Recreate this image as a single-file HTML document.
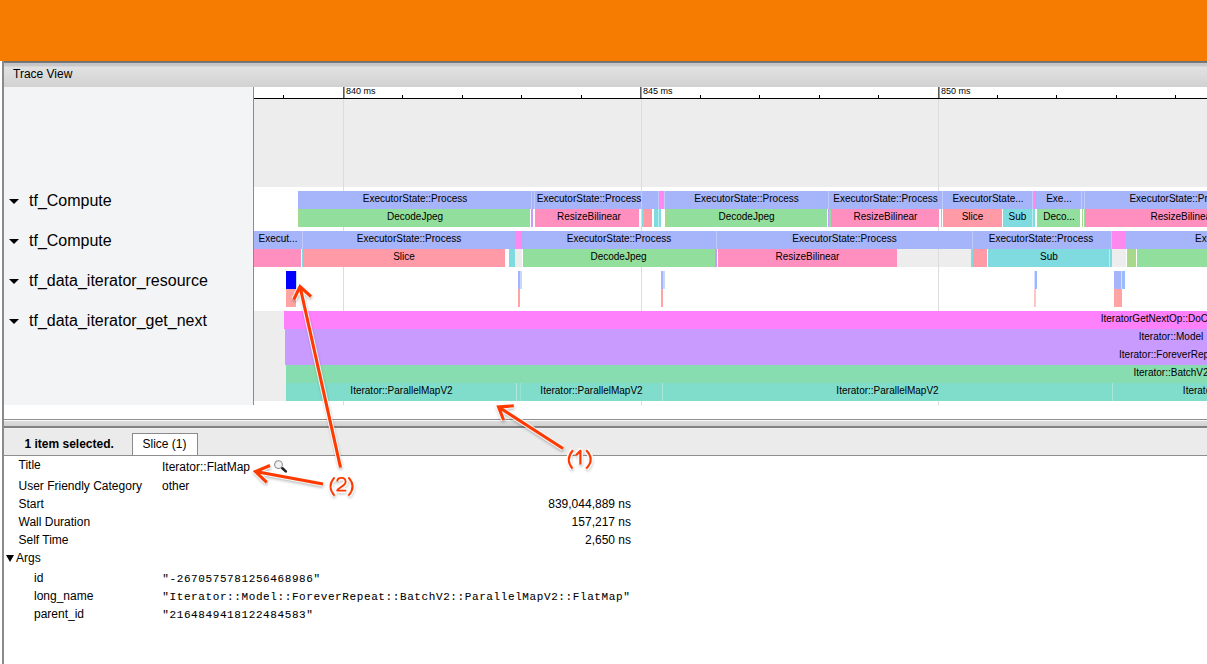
<!DOCTYPE html>
<html><head><meta charset="utf-8"><style>
html,body{margin:0;padding:0;}
body{width:1207px;height:664px;overflow:hidden;position:relative;background:#fff;font-family:"Liberation Sans", sans-serif;}
body>div{position:absolute;}
.t{white-space:nowrap;}
</style></head><body>
<div style="left:0px;top:0px;width:1207px;height:61px;background:#f57c00;"></div>
<div style="left:2px;top:61px;width:1205px;height:1px;background:#6c7075;"></div>
<div style="left:4px;top:62px;width:1203px;height:1px;background:#787c81;"></div>
<div style="left:2px;top:61px;width:2px;height:603px;background:#8a8a8a;"></div>
<div style="left:4px;top:63px;width:1203px;height:24px;background:linear-gradient(#c4c4c4 0px,#cacaca 3px,#e1e1e1 4px,#dddddd 10px,#d2d2d2 23px);"></div>
<div class="t" style="left:13px;top:67.84px;font-size:12px;line-height:12px;color:#000;font-weight:normal;font-family:'Liberation Sans', sans-serif;">Trace View</div>
<div style="left:4px;top:87px;width:249px;height:318px;background:#f3f4f6;"></div>
<div style="left:253px;top:87px;width:1px;height:318px;background:#8c8c8c;"></div>
<div style="left:254px;top:87px;width:953px;height:11px;background:#ffffff;"></div>
<div style="left:254px;top:98px;width:953px;height:1px;background:#000000;"></div>
<div style="left:254px;top:99px;width:953px;height:88px;background:#ededed;"></div>
<div style="left:254px;top:187px;width:953px;height:218px;background:#ffffff;"></div>
<div style="left:4px;top:405px;width:1203px;height:14px;background:#ffffff;"></div>
<div style="left:343px;top:99px;width:1px;height:306px;background:#dcdcdc;"></div>
<div style="left:641px;top:99px;width:1px;height:306px;background:#dcdcdc;"></div>
<div style="left:938px;top:99px;width:1px;height:306px;background:#dcdcdc;"></div>
<div style="left:283px;top:95px;width:1px;height:3px;background:#000;"></div>
<div style="left:343px;top:87px;width:1px;height:11px;background:#5a5a5a;"></div>
<div style="left:344px;top:87px;width:1px;height:11px;background:#9a9a9a;"></div>
<div style="left:402px;top:95px;width:1px;height:3px;background:#000;"></div>
<div style="left:462px;top:95px;width:1px;height:3px;background:#000;"></div>
<div style="left:521px;top:95px;width:1px;height:3px;background:#000;"></div>
<div style="left:581px;top:95px;width:1px;height:3px;background:#000;"></div>
<div style="left:640px;top:87px;width:1px;height:11px;background:#5a5a5a;"></div>
<div style="left:641px;top:87px;width:1px;height:11px;background:#9a9a9a;"></div>
<div style="left:700px;top:95px;width:1px;height:3px;background:#000;"></div>
<div style="left:759px;top:95px;width:1px;height:3px;background:#000;"></div>
<div style="left:819px;top:95px;width:1px;height:3px;background:#000;"></div>
<div style="left:878px;top:95px;width:1px;height:3px;background:#000;"></div>
<div style="left:938px;top:87px;width:1px;height:11px;background:#5a5a5a;"></div>
<div style="left:939px;top:87px;width:1px;height:11px;background:#9a9a9a;"></div>
<div style="left:997px;top:95px;width:1px;height:3px;background:#000;"></div>
<div style="left:1056px;top:95px;width:1px;height:3px;background:#000;"></div>
<div style="left:1116px;top:95px;width:1px;height:3px;background:#000;"></div>
<div style="left:1175px;top:95px;width:1px;height:3px;background:#000;"></div>
<div class="t" style="left:346px;top:87.38px;font-size:9px;line-height:9px;color:#000;font-weight:normal;font-family:'Liberation Sans', sans-serif;">840 ms</div>
<div class="t" style="left:643px;top:87.38px;font-size:9px;line-height:9px;color:#000;font-weight:normal;font-family:'Liberation Sans', sans-serif;">845 ms</div>
<div class="t" style="left:941px;top:87.38px;font-size:9px;line-height:9px;color:#000;font-weight:normal;font-family:'Liberation Sans', sans-serif;">850 ms</div>
<div style="left:9px;top:199px;width:0;height:0;border-left:5px solid transparent;border-right:5px solid transparent;border-top:5.5px solid #000;background:none"></div>
<div class="t" style="left:29px;top:193.46px;font-size:16px;line-height:16px;color:#000;font-weight:normal;font-family:'Liberation Sans', sans-serif;">tf_Compute</div>
<div style="left:9px;top:239px;width:0;height:0;border-left:5px solid transparent;border-right:5px solid transparent;border-top:5.5px solid #000;background:none"></div>
<div class="t" style="left:29px;top:233.46px;font-size:16px;line-height:16px;color:#000;font-weight:normal;font-family:'Liberation Sans', sans-serif;">tf_Compute</div>
<div style="left:9px;top:279px;width:0;height:0;border-left:5px solid transparent;border-right:5px solid transparent;border-top:5.5px solid #000;background:none"></div>
<div class="t" style="left:29px;top:273.46px;font-size:16px;line-height:16px;color:#000;font-weight:normal;font-family:'Liberation Sans', sans-serif;">tf_data_iterator_resource</div>
<div style="left:9px;top:319px;width:0;height:0;border-left:5px solid transparent;border-right:5px solid transparent;border-top:5.5px solid #000;background:none"></div>
<div class="t" style="left:29px;top:313.46px;font-size:16px;line-height:16px;color:#000;font-weight:normal;font-family:'Liberation Sans', sans-serif;">tf_data_iterator_get_next</div>
<div style="left:298px;top:191px;width:983px;height:18px;background:#a6b4fa;"></div>
<div style="left:531px;top:191px;width:1px;height:18px;background:#c3cbfc;"></div>
<div style="left:534px;top:191px;width:1px;height:18px;background:#c3cbfc;"></div>
<div style="left:641px;top:191px;width:1px;height:18px;background:#c3cbfc;"></div>
<div style="left:658px;top:191px;width:1px;height:18px;background:#c3cbfc;"></div>
<div style="left:664px;top:191px;width:1px;height:18px;background:#c3cbfc;"></div>
<div style="left:828px;top:191px;width:1px;height:18px;background:#c3cbfc;"></div>
<div style="left:942px;top:191px;width:1px;height:18px;background:#c3cbfc;"></div>
<div style="left:1032px;top:191px;width:1px;height:18px;background:#c3cbfc;"></div>
<div style="left:1081px;top:191px;width:1px;height:18px;background:#c3cbfc;"></div>
<div style="left:1084px;top:191px;width:1px;height:18px;background:#c3cbfc;"></div>
<div style="left:660px;top:191px;width:4px;height:18px;background:#ff88ee;"></div>
<div style="left:1033.8px;top:191px;width:2.0px;height:18px;background:#ff88ee;"></div>
<div class="t" style="left:-185px;width:1200px;text-align:center;top:193.53px;font-size:10px;line-height:10px;color:#000;">ExecutorState::Process</div>
<div class="t" style="left:-11px;width:1200px;text-align:center;top:193.53px;font-size:10px;line-height:10px;color:#000;">ExecutorState::Process</div>
<div class="t" style="left:146.5px;width:1200px;text-align:center;top:193.53px;font-size:10px;line-height:10px;color:#000;">ExecutorState::Process</div>
<div class="t" style="left:285.5px;width:1200px;text-align:center;top:193.53px;font-size:10px;line-height:10px;color:#000;">ExecutorState::Process</div>
<div class="t" style="left:388px;width:1200px;text-align:center;top:193.53px;font-size:10px;line-height:10px;color:#000;">ExecutorState...</div>
<div class="t" style="left:459px;width:1200px;text-align:center;top:193.53px;font-size:10px;line-height:10px;color:#000;">Exe...</div>
<div class="t" style="left:581.7px;width:1200px;text-align:center;top:193.53px;font-size:10px;line-height:10px;color:#000;">ExecutorState::Process</div>
<div style="left:298px;top:209px;width:2px;height:18px;background:#a8d88c;"></div>
<div style="left:300px;top:209px;width:230px;height:18px;background:#92de9c;"></div>
<div class="t" style="left:-185px;width:1200px;text-align:center;top:211.53px;font-size:10px;line-height:10px;color:#000;">DecodeJpeg</div>
<div style="left:531px;top:209px;width:2px;height:18px;background:#c99bff;"></div>
<div style="left:535px;top:209px;width:104px;height:18px;background:#ff8fbe;"></div>
<div class="t" style="left:-11px;width:1200px;text-align:center;top:211.53px;font-size:10px;line-height:10px;color:#000;">ResizeBilinear</div>
<div style="left:642px;top:209px;width:1.5px;height:18px;background:#80dbe0;"></div>
<div style="left:643.5px;top:209px;width:8.5px;height:18px;background:#ff9aa6;"></div>
<div style="left:654px;top:209px;width:4px;height:18px;background:#80dbe0;"></div>
<div style="left:658px;top:209px;width:1px;height:18px;background:#b8ecee;"></div>
<div style="left:659px;top:209px;width:1.5px;height:18px;background:#80dbe0;"></div>
<div style="left:665px;top:209px;width:2px;height:18px;background:#a8d88c;"></div>
<div style="left:667px;top:209px;width:160px;height:18px;background:#92de9c;"></div>
<div class="t" style="left:146.5px;width:1200px;text-align:center;top:211.53px;font-size:10px;line-height:10px;color:#000;">DecodeJpeg</div>
<div style="left:828px;top:209px;width:1px;height:18px;background:#c99bff;"></div>
<div style="left:829px;top:209px;width:1.5px;height:18px;background:#92de9c;"></div>
<div style="left:831px;top:209px;width:108px;height:18px;background:#ff8fbe;"></div>
<div class="t" style="left:285.5px;width:1200px;text-align:center;top:211.53px;font-size:10px;line-height:10px;color:#000;">ResizeBilinear</div>
<div style="left:941px;top:209px;width:1px;height:18px;background:#80dbe0;"></div>
<div style="left:943px;top:209px;width:59px;height:18px;background:#ff9aa6;"></div>
<div class="t" style="left:372.5px;width:1200px;text-align:center;top:211.53px;font-size:10px;line-height:10px;color:#000;">Slice</div>
<div style="left:1003px;top:209px;width:29px;height:18px;background:#80dbe0;"></div>
<div class="t" style="left:417.5px;width:1200px;text-align:center;top:211.53px;font-size:10px;line-height:10px;color:#000;">Sub</div>
<div style="left:1032px;top:209px;width:1px;height:18px;background:#b8ecee;"></div>
<div style="left:1033px;top:209px;width:1.5px;height:18px;background:#80dbe0;"></div>
<div style="left:1037px;top:209px;width:43px;height:18px;background:#92de9c;"></div>
<div class="t" style="left:459px;width:1200px;text-align:center;top:211.53px;font-size:10px;line-height:10px;color:#000;">Deco...</div>
<div style="left:1081.5px;top:209px;width:1.5px;height:18px;background:#a8d88c;"></div>
<div style="left:1083.5px;top:209px;width:1.0px;height:18px;background:#92de9c;"></div>
<div style="left:1085px;top:209px;width:195px;height:18px;background:#ff8fbe;"></div>
<div class="t" style="left:582.5px;width:1200px;text-align:center;top:211.53px;font-size:10px;line-height:10px;color:#000;">ResizeBilinear</div>
<div style="left:254px;top:231px;width:1146px;height:18px;background:#a6b4fa;"></div>
<div style="left:302px;top:231px;width:1px;height:18px;background:#c3cbfc;"></div>
<div style="left:716px;top:231px;width:1px;height:18px;background:#c3cbfc;"></div>
<div style="left:972px;top:231px;width:1px;height:18px;background:#c3cbfc;"></div>
<div style="left:1111px;top:231px;width:1px;height:18px;background:#c3cbfc;"></div>
<div style="left:515.5px;top:231px;width:6.0px;height:18px;background:#ff88ee;"></div>
<div style="left:1111.8px;top:231px;width:13.5px;height:18px;background:#ff88ee;"></div>
<div class="t" style="left:-322px;width:1200px;text-align:center;top:233.53px;font-size:10px;line-height:10px;color:#000;">Execut...</div>
<div class="t" style="left:-191px;width:1200px;text-align:center;top:233.53px;font-size:10px;line-height:10px;color:#000;">ExecutorState::Process</div>
<div class="t" style="left:19px;width:1200px;text-align:center;top:233.53px;font-size:10px;line-height:10px;color:#000;">ExecutorState::Process</div>
<div class="t" style="left:244.5px;width:1200px;text-align:center;top:233.53px;font-size:10px;line-height:10px;color:#000;">ExecutorState::Process</div>
<div class="t" style="left:441px;width:1200px;text-align:center;top:233.53px;font-size:10px;line-height:10px;color:#000;">ExecutorState::Process</div>
<div class="t" style="left:647.3px;width:1200px;text-align:center;top:233.53px;font-size:10px;line-height:10px;color:#000;">ExecutorState::Process</div>
<div style="left:254px;top:249px;width:47px;height:18px;background:#ff8fbe;"></div>
<div style="left:301.5px;top:249px;width:1.5px;height:18px;background:#80dbe0;"></div>
<div style="left:303px;top:249px;width:202px;height:18px;background:#ff9aa6;"></div>
<div class="t" style="left:-196px;width:1200px;text-align:center;top:251.53px;font-size:10px;line-height:10px;color:#000;">Slice</div>
<div style="left:509px;top:249px;width:6px;height:18px;background:#80dbe0;"></div>
<div style="left:515px;top:249px;width:7px;height:18px;background:#ededed;"></div>
<div style="left:522.5px;top:249px;width:192.0px;height:18px;background:#92de9c;"></div>
<div class="t" style="left:18.5px;width:1200px;text-align:center;top:251.53px;font-size:10px;line-height:10px;color:#000;">DecodeJpeg</div>
<div style="left:715px;top:249px;width:2px;height:18px;background:#c99bff;"></div>
<div style="left:718px;top:249px;width:179px;height:18px;background:#ff8fbe;"></div>
<div class="t" style="left:207.5px;width:1200px;text-align:center;top:251.53px;font-size:10px;line-height:10px;color:#000;">ResizeBilinear</div>
<div style="left:897px;top:249px;width:74px;height:18px;background:#ededed;"></div>
<div style="left:971px;top:249px;width:1.5px;height:18px;background:#80dbe0;"></div>
<div style="left:972.5px;top:249px;width:14.0px;height:18px;background:#ff9aa6;"></div>
<div style="left:988px;top:249px;width:121px;height:18px;background:#80dbe0;"></div>
<div class="t" style="left:449px;width:1200px;text-align:center;top:251.53px;font-size:10px;line-height:10px;color:#000;">Sub</div>
<div style="left:1109px;top:249px;width:1px;height:18px;background:#b8ecee;"></div>
<div style="left:1110px;top:249px;width:2px;height:18px;background:#80dbe0;"></div>
<div style="left:1112px;top:249px;width:14px;height:18px;background:#ededed;"></div>
<div style="left:1126.5px;top:249px;width:9.5px;height:18px;background:#a8d88c;"></div>
<div style="left:1137px;top:249px;width:263px;height:18px;background:#92de9c;"></div>
<div style="left:938px;top:249px;width:1px;height:18px;background:#dcdcdc;"></div>
<div style="left:286px;top:271px;width:10px;height:18px;background:#0000ff;"></div>
<div style="left:296px;top:271px;width:1px;height:18px;background:#c8d8ff;"></div>
<div style="left:286px;top:289px;width:10px;height:18px;background:#ffa3a3;"></div>
<div style="left:518px;top:271px;width:2px;height:18px;background:#a6b4fa;"></div>
<div style="left:520px;top:271px;width:2px;height:18px;background:#c8d8ff;"></div>
<div style="left:518px;top:289px;width:2px;height:18px;background:#ffa3a3;"></div>
<div style="left:661px;top:271px;width:2px;height:18px;background:#a6b4fa;"></div>
<div style="left:663px;top:271px;width:2px;height:18px;background:#c8d8ff;"></div>
<div style="left:661px;top:289px;width:2px;height:18px;background:#ffa3a3;"></div>
<div style="left:1034px;top:271px;width:1px;height:18px;background:#d8e0ff;"></div>
<div style="left:1035px;top:271px;width:2px;height:18px;background:#99b8ff;"></div>
<div style="left:1034px;top:289px;width:2px;height:18px;background:#ffc4c4;"></div>
<div style="left:1114px;top:271px;width:7px;height:18px;background:#a6b4fa;"></div>
<div style="left:1121px;top:271px;width:1px;height:18px;background:#d4dcfd;"></div>
<div style="left:1122px;top:271px;width:3px;height:18px;background:#99bbff;"></div>
<div style="left:1114px;top:289px;width:7.5px;height:18px;background:#ffa3a3;"></div>
<div style="left:254px;top:311px;width:32px;height:90px;background:#ededed;"></div>
<div style="left:284px;top:311px;width:1774px;height:18px;background:#ff80fb;"></div>
<div class="t" style="left:571px;width:1200px;text-align:center;top:313.53px;font-size:10px;line-height:10px;color:#000;">IteratorGetNextOp::DoCompute</div>
<div style="left:285px;top:329px;width:1772px;height:18px;background:#c99bff;"></div>
<div class="t" style="left:571px;width:1200px;text-align:center;top:331.53px;font-size:10px;line-height:10px;color:#000;">Iterator::Model</div>
<div style="left:285px;top:347px;width:1772px;height:18px;background:#c99bff;"></div>
<div class="t" style="left:571px;width:1200px;text-align:center;top:349.53px;font-size:10px;line-height:10px;color:#000;">Iterator::ForeverRepeat</div>
<div style="left:285.5px;top:365px;width:1770.5px;height:18px;background:#88ddb0;"></div>
<div class="t" style="left:571px;width:1200px;text-align:center;top:367.53px;font-size:10px;line-height:10px;color:#000;">Iterator::BatchV2</div>
<div style="left:286px;top:383px;width:1114px;height:18px;background:#80dccb;"></div>
<div style="left:516px;top:383px;width:1px;height:18px;background:#b2e8dc;"></div>
<div style="left:520px;top:383px;width:1px;height:18px;background:#98e2d2;"></div>
<div style="left:662px;top:383px;width:1px;height:18px;background:#a8e6d8;"></div>
<div style="left:1112px;top:383px;width:1px;height:18px;background:#a8e6d8;"></div>
<div class="t" style="left:-198.5px;width:1200px;text-align:center;top:385.53px;font-size:10px;line-height:10px;color:#000;">Iterator::ParallelMapV2</div>
<div class="t" style="left:-8.5px;width:1200px;text-align:center;top:385.53px;font-size:10px;line-height:10px;color:#000;">Iterator::ParallelMapV2</div>
<div class="t" style="left:287.5px;width:1200px;text-align:center;top:385.53px;font-size:10px;line-height:10px;color:#000;">Iterator::ParallelMapV2</div>
<div class="t" style="left:634px;width:1200px;text-align:center;top:385.53px;font-size:10px;line-height:10px;color:#000;">Iterator::ParallelMapV2</div>
<div style="left:4px;top:419px;width:1203px;height:1px;background:#8e8e8e;"></div>
<div style="left:4px;top:420px;width:1203px;height:1px;background:#fafafa;"></div>
<div style="left:4px;top:421px;width:1203px;height:5px;background:linear-gradient(#dcdcdc,#d2d2d2);"></div>
<div style="left:4px;top:426px;width:1203px;height:2px;background:#828282;"></div>
<div style="left:4px;top:428px;width:1203px;height:27px;background:#ebebeb;"></div>
<div style="left:4px;top:428px;width:1203px;height:1px;background:#f0f0f0;"></div>
<div style="left:4px;top:456px;width:1203px;height:208px;background:#ffffff;"></div>
<div class="t" style="left:24.5px;top:437.84px;font-size:12px;line-height:12px;color:#000;font-weight:bold;font-family:'Liberation Sans', sans-serif;">1 item selected.</div>
<div style="left:132px;top:433px;width:66px;height:22px;background:#ffffff;box-sizing:border-box;border:1px solid #8a8a8a;border-bottom:none"></div>
<div style="left:4px;top:455px;width:1203px;height:1px;background:#8e8e8e;"></div>
<div class="t" style="left:142.5px;top:437.84px;font-size:12px;line-height:12px;color:#000;font-weight:normal;font-family:'Liberation Sans', sans-serif;">Slice (1)</div>
<div class="t" style="left:18.5px;top:458.84px;font-size:12px;line-height:12px;color:#000;font-weight:normal;font-family:'Liberation Sans', sans-serif;">Title</div>
<div class="t" style="left:18.5px;top:479.84px;font-size:12px;line-height:12px;color:#000;font-weight:normal;font-family:'Liberation Sans', sans-serif;">User Friendly Category</div>
<div class="t" style="left:18.5px;top:497.84px;font-size:12px;line-height:12px;color:#000;font-weight:normal;font-family:'Liberation Sans', sans-serif;">Start</div>
<div class="t" style="left:18.5px;top:515.84px;font-size:12px;line-height:12px;color:#000;font-weight:normal;font-family:'Liberation Sans', sans-serif;">Wall Duration</div>
<div class="t" style="left:18.5px;top:533.84px;font-size:12px;line-height:12px;color:#000;font-weight:normal;font-family:'Liberation Sans', sans-serif;">Self Time</div>
<div class="t" style="left:162px;top:460.84px;font-size:12px;line-height:12px;color:#000;font-weight:normal;font-family:'Liberation Sans', sans-serif;">Iterator::FlatMap</div>
<div class="t" style="left:162px;top:479.84px;font-size:12px;line-height:12px;color:#000;font-weight:normal;font-family:'Liberation Sans', sans-serif;">other</div>
<div class="t" style="left:31px;width:600px;text-align:right;top:497.84px;font-size:12px;line-height:12px;color:#000;">839,044,889 ns</div>
<div class="t" style="left:31px;width:600px;text-align:right;top:515.84px;font-size:12px;line-height:12px;color:#000;">157,217 ns</div>
<div class="t" style="left:31px;width:600px;text-align:right;top:533.84px;font-size:12px;line-height:12px;color:#000;">2,650 ns</div>
<div style="left:6px;top:555px;width:0;height:0;border-left:4px solid transparent;border-right:4px solid transparent;border-top:7px solid #000;background:none"></div>
<div class="t" style="left:16px;top:551.84px;font-size:12px;line-height:12px;color:#000;font-weight:normal;font-family:'Liberation Sans', sans-serif;">Args</div>
<div class="t" style="left:34px;top:571.84px;font-size:12px;line-height:12px;color:#000;font-weight:normal;font-family:'Liberation Sans', sans-serif;">id</div>
<div class="t" style="left:162.3px;top:574.19px;font-size:11px;line-height:11px;color:#000;font-weight:normal;font-family:'Liberation Mono', monospace;letter-spacing:0.6px;-webkit-text-stroke:0.08px #000">"-2670575781256468986"</div>
<div class="t" style="left:34px;top:589.84px;font-size:12px;line-height:12px;color:#000;font-weight:normal;font-family:'Liberation Sans', sans-serif;">long_name</div>
<div class="t" style="left:162.3px;top:592.19px;font-size:11px;line-height:11px;color:#000;font-weight:normal;font-family:'Liberation Mono', monospace;letter-spacing:0.6px;-webkit-text-stroke:0.08px #000">"Iterator::Model::ForeverRepeat::BatchV2::ParallelMapV2::FlatMap"</div>
<div class="t" style="left:34px;top:607.84px;font-size:12px;line-height:12px;color:#000;font-weight:normal;font-family:'Liberation Sans', sans-serif;">parent_id</div>
<div class="t" style="left:162.3px;top:610.19px;font-size:11px;line-height:11px;color:#000;font-weight:normal;font-family:'Liberation Mono', monospace;letter-spacing:0.6px;-webkit-text-stroke:0.08px #000">"2164849418122484583"</div>
<svg style="position:absolute;left:270px;top:456px" width="20" height="20" viewBox="0 0 20 20"><circle cx="8.5" cy="8.6" r="3.9" fill="#f2f2f2" stroke="#8a8e94" stroke-width="1.1"/><line x1="12.4" y1="12.3" x2="15.8" y2="15.4" stroke="#222" stroke-width="2.6" stroke-linecap="round"/></svg>
<svg style="position:absolute;left:0;top:0" width="1207" height="664" viewBox="0 0 1207 664">
<defs><filter id="sh" x="-10%" y="-10%" width="120%" height="120%"><feGaussianBlur stdDeviation="1.6"/></filter></defs>
<g fill="none" stroke-linejoin="miter" stroke-linecap="butt">
<g transform="translate(0.5,2)" filter="url(#sh)" opacity="0.28"><path d="M340.5 467.5 L300 286.5 M293.8 299.5 L300 286.5 L311 296.5" stroke="#000" stroke-width="4.1" stroke-linejoin="miter"/><path d="M323 484 L255.5 471.5 M270 465.5 L255.5 471.5 L266.7 482.3" stroke="#000" stroke-width="4.1" stroke-linejoin="miter"/><path d="M563 448.5 L498.5 407 M513.8 405.8 L498.5 407 L503.6 420" stroke="#000" stroke-width="4.1" stroke-linejoin="miter"/><path d="M334.5 477.3 Q326.5 486.4 334.5 495.6" stroke="#000" stroke-width="2.9" stroke-linejoin="round"/><path d="M337.2 481.4 C337.2 479.3 338.9 477.9 341.4 477.9 C344 477.9 345.6 479.6 345.6 481.7 C345.6 484.2 343.4 485.5 341 487.1 C338.6 488.7 337.2 489.6 337.2 490.6 L346.2 490.6" stroke="#000" stroke-width="2.9" stroke-linejoin="round"/><path d="M348.4 477.3 Q356.8 486.4 348.4 495.6" stroke="#000" stroke-width="2.9" stroke-linejoin="round"/><path d="M572.9 450.2 Q565 459.4 572.4 468.5" stroke="#000" stroke-width="3.1" stroke-linejoin="round"/><path d="M576 455.3 L580.4 450.7 L580.4 464.6" stroke="#000" stroke-width="3.2" stroke-linejoin="round"/><path d="M586.2 450.2 Q595.2 459.4 586.2 468.5" stroke="#000" stroke-width="3.1" stroke-linejoin="round"/></g>
<g opacity="0.85"><path d="M340.5 467.5 L300 286.5 M293.8 299.5 L300 286.5 L311 296.5" stroke="#fff" stroke-width="5.300000000000001" stroke-linejoin="miter"/><path d="M323 484 L255.5 471.5 M270 465.5 L255.5 471.5 L266.7 482.3" stroke="#fff" stroke-width="5.300000000000001" stroke-linejoin="miter"/><path d="M563 448.5 L498.5 407 M513.8 405.8 L498.5 407 L503.6 420" stroke="#fff" stroke-width="5.300000000000001" stroke-linejoin="miter"/><path d="M334.5 477.3 Q326.5 486.4 334.5 495.6" stroke="#fff" stroke-width="5.1" stroke-linejoin="round"/><path d="M337.2 481.4 C337.2 479.3 338.9 477.9 341.4 477.9 C344 477.9 345.6 479.6 345.6 481.7 C345.6 484.2 343.4 485.5 341 487.1 C338.6 488.7 337.2 489.6 337.2 490.6 L346.2 490.6" stroke="#fff" stroke-width="5.1" stroke-linejoin="round"/><path d="M348.4 477.3 Q356.8 486.4 348.4 495.6" stroke="#fff" stroke-width="5.1" stroke-linejoin="round"/><path d="M572.9 450.2 Q565 459.4 572.4 468.5" stroke="#fff" stroke-width="5.300000000000001" stroke-linejoin="round"/><path d="M576 455.3 L580.4 450.7 L580.4 464.6" stroke="#fff" stroke-width="5.4" stroke-linejoin="round"/><path d="M586.2 450.2 Q595.2 459.4 586.2 468.5" stroke="#fff" stroke-width="5.300000000000001" stroke-linejoin="round"/></g>
<g><path d="M340.5 467.5 L300 286.5 M293.8 299.5 L300 286.5 L311 296.5" stroke="#ff3a00" stroke-width="3.1" stroke-linejoin="miter"/><path d="M323 484 L255.5 471.5 M270 465.5 L255.5 471.5 L266.7 482.3" stroke="#ff3a00" stroke-width="3.1" stroke-linejoin="miter"/><path d="M563 448.5 L498.5 407 M513.8 405.8 L498.5 407 L503.6 420" stroke="#ff3a00" stroke-width="3.1" stroke-linejoin="miter"/><path d="M334.5 477.3 Q326.5 486.4 334.5 495.6" stroke="#ff3a00" stroke-width="1.9" stroke-linejoin="round"/><path d="M337.2 481.4 C337.2 479.3 338.9 477.9 341.4 477.9 C344 477.9 345.6 479.6 345.6 481.7 C345.6 484.2 343.4 485.5 341 487.1 C338.6 488.7 337.2 489.6 337.2 490.6 L346.2 490.6" stroke="#ff3a00" stroke-width="1.9" stroke-linejoin="round"/><path d="M348.4 477.3 Q356.8 486.4 348.4 495.6" stroke="#ff3a00" stroke-width="1.9" stroke-linejoin="round"/><path d="M572.9 450.2 Q565 459.4 572.4 468.5" stroke="#ff3a00" stroke-width="2.1" stroke-linejoin="round"/><path d="M576 455.3 L580.4 450.7 L580.4 464.6" stroke="#ff3a00" stroke-width="2.2" stroke-linejoin="round"/><path d="M586.2 450.2 Q595.2 459.4 586.2 468.5" stroke="#ff3a00" stroke-width="2.1" stroke-linejoin="round"/></g>
</g>
</svg>
</body></html>
